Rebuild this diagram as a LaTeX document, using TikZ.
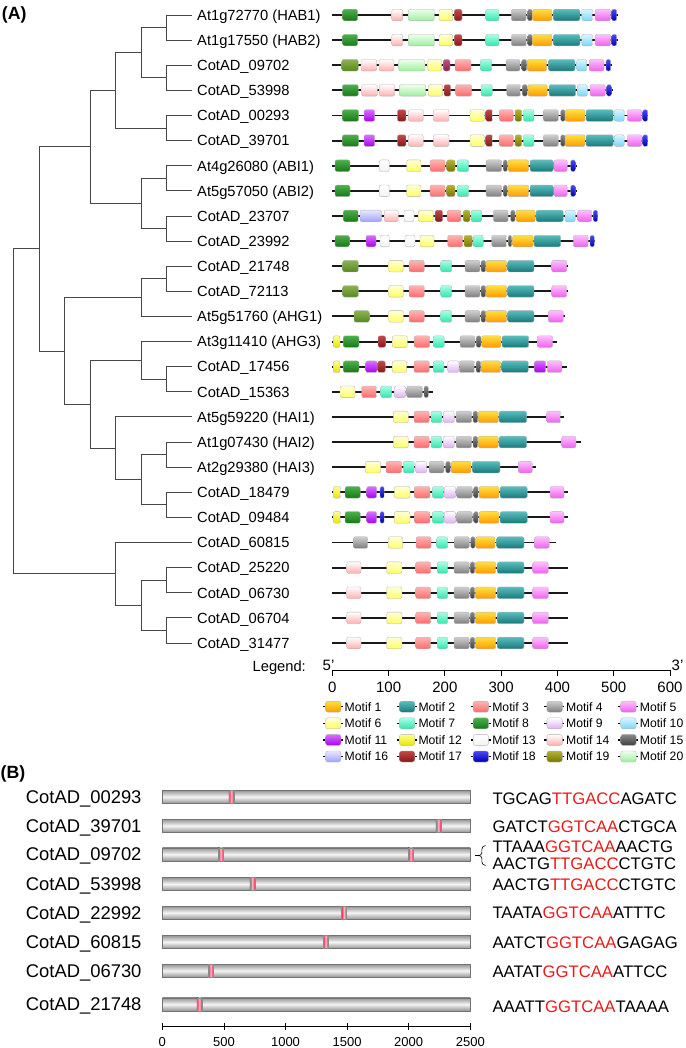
\documentclass[tikz,border=0pt]{standalone}
\usepackage{fontspec}
\setmainfont{Liberation Sans}
\usetikzlibrary{calc}
\definecolor{c1t}{HTML}{FFE040}\definecolor{c1b}{HTML}{FF9A00}
\definecolor{c2t}{HTML}{5ABDBD}\definecolor{c2b}{HTML}{17797A}
\definecolor{c3t}{HTML}{FFB4B4}\definecolor{c3b}{HTML}{FF6A6A}
\definecolor{c4t}{HTML}{CFCFCF}\definecolor{c4b}{HTML}{7E7E7E}
\definecolor{c5t}{HTML}{FFC0FF}\definecolor{c5b}{HTML}{EE60EE}
\definecolor{c6t}{HTML}{FFFFD8}\definecolor{c6b}{HTML}{FFFF60}
\definecolor{c7t}{HTML}{A8FFE4}\definecolor{c7b}{HTML}{30E6AE}
\definecolor{c8t}{HTML}{4CB04C}\definecolor{c8b}{HTML}{167816}
\definecolor{c8ot}{HTML}{8CB450}\definecolor{c8ob}{HTML}{548820}
\definecolor{c9t}{HTML}{FFFFFF}\definecolor{c9b}{HTML}{DDB0F2}
\definecolor{c10t}{HTML}{D8F6FF}\definecolor{c10b}{HTML}{78D6F8}
\definecolor{c11t}{HTML}{D870FF}\definecolor{c11b}{HTML}{A800EE}
\definecolor{c12t}{HTML}{FFFF90}\definecolor{c12b}{HTML}{E6E600}
\definecolor{c13t}{HTML}{FFFFFF}\definecolor{c13b}{HTML}{F2F2F2}
\definecolor{c14t}{HTML}{FFFFFF}\definecolor{c14b}{HTML}{FFAEAE}
\definecolor{c15t}{HTML}{8A8A8A}\definecolor{c15b}{HTML}{3E3E3E}
\definecolor{c16t}{HTML}{E8E8FF}\definecolor{c16b}{HTML}{A0A0FF}
\definecolor{c17t}{HTML}{C44848}\definecolor{c17b}{HTML}{861818}
\definecolor{c17mt}{HTML}{C25080}\definecolor{c17mb}{HTML}{8E1E50}
\definecolor{c18t}{HTML}{4848FF}\definecolor{c18b}{HTML}{0000AA}
\definecolor{c19t}{HTML}{B4B430}\definecolor{c19b}{HTML}{767600}
\definecolor{c20t}{HTML}{EEFFEE}\definecolor{c20b}{HTML}{9CEE9C}
\definecolor{seqred}{HTML}{F01818}
\definecolor{crim}{HTML}{E8244C}
\newcommand\RY[1]{15+25.12*(#1-1)}
\newcommand\prow[3]{%
  \pgfmathsetmacro\yy{15+25.12*(#1-1)}
  \draw[backbone] (332.3,\yy) -- (#2,\yy);
  \foreach \s/\a/\b in #3 {\draw[mshape,\s] (\a,\yy-5.8) rectangle (\b,\yy+5.8);}
}
\def\rA{m8/342.7/357.7, m14/391.7/402.7, m20/408.3/434.3, m6/439/452.7, m17/454.3/462, m7/485.7/499, m4/511.3/526.3, m15/527.7/532.3, m1/532.7/552, m2/553.3/580, m10/581.7/592.7, m5/595/610.7, m18/611.7/616.7}
\def\rC{m8o/341.7/358.3, m14/361/376.7, m14/379/394, m20/398.7/425, m6/427.7/441.7, m17m/443.3/450, m3/455/471, m7/480.3/491.7, m4/506/520, m15/521.7/526.7, m1/527.3/546.7, m2/548.3/575, m10/576.7/586.7, m5/589/604, m18/606/610.7}
\def\rD{m8/342.3/358.3, m14/361.7/377.3, m14/379.3/394.7, m20/399.3/425.7, m6/428.3/442.7, m17/444/450.7, m3/455.7/471.7, m7/481/492.3, m4/506.7/520.7, m15/522.3/527.3, m1/528/547.3, m2/549/575.7, m10/577.3/587.3, m5/590/605.3, m18/606.7/611.3}
\def\rE{m8/342.3/358.7, m11/364/374.7, m17/397.3/406, m14/408.3/423.3, m14/433.3/449, m6/470/484.3, m17/485.7/492.7, m3/499.3/513.3, m19/515/521.7, m7/523.3/534, m4/543.3/558.3, m15/560.7/565, m1/565/585, m2/586/613.3, m10/614.3/624.3, m5/627.3/641.7, m18/642.7/647.7}
\def\rG{m8/335/350, m13/379.3/389.3, m6/406.7/421, m3/430/445, m19/446.7/455, m7/457.3/468.7, m4/486/501.7, m15/503.3/507.3, m1/508/528.7, m2/530/553.3, m5/554/567.3, m18/570.7/575.3}
\def\rI{m8/343.3/358.3, m16/360/381.7, m14/384.3/398.3, m13/404/414, m6/418.3/433.3, m17/435/442.7, m3/447.3/461, m19/463.3/470, m7/471/481.7, m4/493.3/508.3, m15/510.7/515, m1/516/535.3, m2/536/563.3, m10/565/575.3, m5/577.7/591.7, m18/593.3/597.7}
\def\rJ{m8/335/349.3, m11/366/376, m13/380/389.3, m13/405/415, m6/420/434, m3/447.7/462.7, m19/464/472.3, m7/473.3/483.3, m4/491.7/506.7, m15/508.3/511.7, m1/512.7/533.3, m2/534/560.7, m5/573.3/588.3, m18/590/594.3}
\def\rK{m8o/342.7/358.3, m6/388.7/403.3, m3/409/424.3, m7/440.7/451.7, m4/465/480, m15/481/485.7, m1/486/506.7, m2/507.7/534, m5/551.7/566.7}
\def\rM{m8o/354/369.3, m6/388.7/403.3, m3/409/424.3, m7/440.7/451.7, m4/465/480, m15/481/485.7, m1/486/506.7, m2/507.7/534, m5/548.3/563.3}
\def\rN{m12/333.3/340, m8/343.3/359, m17/378/385.7, m6/392.3/407.3, m3/414.3/429.7, m7/433.3/444.3, m4/460/475, m15/476.3/481, m1/481.7/501, m2/502/528.7, m5/537.3/552.7}
\def\rO{m12/333.3/340, m8/343.3/359, m11/365.7/377, m17/377.7/385.3, m6/392.3/406.7, m3/414/429.3, m7/433.3/444, m9/447.7/459, m4/459.3/474.7, m15/476/480.7, m1/481.3/500.7, m2/501.7/528.3, m11/534.3/545.7, m5/547.3/561.7}
\def\rP{m6/340/355, m3/361.7/376.7, m7/380.7/391.7, m9/394.3/405.7, m4/406.7/422.3, m15/424/428.3}
\def\rQ{m6/393.3/408.3, m3/414/429.3, m7/431/441.7, m9/443.3/454.3, m4/456/471.7, m15/473/477.7, m1/478.3/498.3, m2/499/526.7, m5/546.7/560.7}
\def\rR{m6/393.3/408.3, m3/414/429.3, m7/431/441.7, m9/443.3/454.3, m4/456/471.7, m15/473/477.7, m1/478.3/498.3, m2/499/526.7, m5/561.7/576}
\def\rS{m6/365.3/380.7, m3/386/401.7, m7/403.3/414.3, m9/415.7/426.7, m4/429/444, m15/445.7/450.3, m1/451/471, m2/472.3/500, m5/518.3/532.3}
\def\rT{m12/333.3/340.7, m8/345/360.3, m11/366.7/376.7, m18/380/384.3, m6/394.3/410, m3/414.3/430, m7/432.3/443.7, m9/444.3/455.7, m4/456.7/472.3, m15/473.7/478.3, m1/479/499, m2/500/527.3, m5/550/564}
\def\rV{m4/353.3/367.7, m6/388.3/402.7, m3/416/431, m7/436.7/447.7, m4/454.3/469.3, m15/470.7/475, m1/475.7/495, m2/496.7/524, m5/534.3/549.3}
\def\rW{m14/346.7/361, m6/386.7/402, m3/415.7/430.7, m7/437.3/447.7, m4/454/469.3, m15/470.3/474.7, m1/475.3/495.7, m2/497.3/524, m5/532.7/548.3}
\begin{document}
\begin{tikzpicture}[x=1pt,y=-1pt,
  tree/.style={draw=black!72, line width=0.9pt},
  tlab/.style={inner sep=0pt, font=\fontsize{14.7}{16}\selectfont},
  backbone/.style={draw=black!90, line width=1.9pt},
  mshape/.style={draw=black!30, line width=0.35pt, rounded corners=2pt},
  m1/.style={top color=c1t, bottom color=c1b},
  m2/.style={top color=c2t, bottom color=c2b},
  m3/.style={top color=c3t, bottom color=c3b},
  m4/.style={top color=c4t, bottom color=c4b},
  m5/.style={top color=c5t, bottom color=c5b},
  m6/.style={top color=c6t, bottom color=c6b},
  m7/.style={top color=c7t, bottom color=c7b},
  m8/.style={top color=c8t, bottom color=c8b},
  m8o/.style={top color=c8ot, bottom color=c8ob},
  m9/.style={top color=c9t, bottom color=c9b},
  m10/.style={top color=c10t, bottom color=c10b},
  m11/.style={top color=c11t, bottom color=c11b},
  m12/.style={top color=c12t, bottom color=c12b},
  m13/.style={top color=c13t, bottom color=c13b},
  m14/.style={top color=c14t, bottom color=c14b},
  m15/.style={top color=c15t, bottom color=c15b},
  m16/.style={top color=c16t, bottom color=c16b},
  m17/.style={top color=c17t, bottom color=c17b},
  m17m/.style={top color=c17mt, bottom color=c17mb},
  m18/.style={top color=c18t, bottom color=c18b},
  m19/.style={top color=c19t, bottom color=c19b},
  m20/.style={top color=c20t, bottom color=c20b},
  axisl/.style={draw=black, line width=0.8pt},
  axlab/.style={inner sep=0pt, font=\fontsize{15}{16}\selectfont},
  legstub/.style={draw=black, line width=1.3pt},
  leglab/.style={inner sep=0pt, font=\fontsize{12.2}{14}\selectfont},
  hb/.style={inner sep=0pt, font=\fontsize{17.7}{19}\selectfont\bfseries},
  blab/.style={inner sep=0pt, font=\fontsize{18.4}{20}\selectfont},
  seqt/.style={inner sep=0pt, font=\fontsize{16.7}{18}\selectfont},
  blab2/.style={inner sep=0pt, font=\fontsize{13}{14}\selectfont},
  gbar/.style={draw=black!55, line width=0.5pt, top color=black!42, bottom color=black!42, middle color=black!4},
  cremark/.style={draw=black!45, line width=0.3pt, left color=crim, right color=crim, middle color=crim!30},
  bracel/.style={draw=black, line width=0.6pt}
]
\useasboundingbox (0,0) rectangle (685,1048);
% ---------- (A) ----------
\node[hb, anchor=base west] (hA) at (1.7,19.6) {(A)};
% leaves and labels
\foreach \i in {1,...,26}{\coordinate (L\i) at (191.7,{\RY{\i}});}
\foreach \i/\t in {1/At1g72770 (HAB1), 2/At1g17550 (HAB2), 3/CotAD\_09702, 4/CotAD\_53998, 5/CotAD\_00293, 6/CotAD\_39701, 7/At4g26080 (ABI1), 8/At5g57050 (ABI2), 9/CotAD\_23707, 10/CotAD\_23992, 11/CotAD\_21748, 12/CotAD\_72113, 13/At5g51760 (AHG1), 14/At3g11410 (AHG3), 15/CotAD\_17456, 16/CotAD\_15363, 17/At5g59220 (HAI1), 18/At1g07430 (HAI2), 19/At2g29380 (HAI3), 20/CotAD\_18479, 21/CotAD\_09484, 22/CotAD\_60815, 23/CotAD\_25220, 24/CotAD\_06730, 25/CotAD\_06704, 26/CotAD\_31477}
  {\node[tlab, anchor=base west] (t\i) at (197,{\RY{\i}+5.3}) {\t};}
% internal nodes
\coordinate (a1) at (166,{\RY{1.5}});
\coordinate (a2) at (166,{\RY{3.5}});
\coordinate (a3) at (141.7,{\RY{2.5}});
\coordinate (a4) at (166,{\RY{5.5}});
\coordinate (a5) at (115.7,{\RY{4}});
\coordinate (a6) at (166,{\RY{7.5}});
\coordinate (a7) at (166,{\RY{9.5}});
\coordinate (a8) at (141.7,{\RY{8.5}});
\coordinate (a9) at (90,{\RY{6.25}});
\coordinate (b1) at (166,{\RY{11.5}});
\coordinate (b2) at (141.7,{\RY{12.25}});
\coordinate (b3) at (166,{\RY{15.5}});
\coordinate (b4) at (141.7,{\RY{14.75}});
\coordinate (b5) at (166,{\RY{18.5}});
\coordinate (b6) at (166,{\RY{20.5}});
\coordinate (b7) at (141.7,{\RY{19.5}});
\coordinate (b8) at (115.7,{\RY{18.25}});
\coordinate (b9) at (90,{\RY{16.5}});
\coordinate (b10) at (64,{\RY{14.375}});
\coordinate (c1) at (39.3,{\RY{10.3125}});
\coordinate (d1) at (166,{\RY{23.5}});
\coordinate (d2) at (166,{\RY{25.5}});
\coordinate (d3) at (141.7,{\RY{24.5}});
\coordinate (d4) at (115.7,{\RY{23.25}});
\coordinate (rt) at (13.3,{\RY{16.78}});
\foreach \p/\c in {a1/L1,a1/L2,a2/L3,a2/L4,a3/a1,a3/a2,a4/L5,a4/L6,a5/a3,a5/a4,a6/L7,a6/L8,a7/L9,a7/L10,a8/a6,a8/a7,a9/a5,a9/a8,
  b1/L11,b1/L12,b2/b1,b2/L13,b3/L15,b3/L16,b4/L14,b4/b3,b5/L18,b5/L19,b6/L20,b6/L21,b7/b5,b7/b6,b8/L17,b8/b7,b9/b4,b9/b8,b10/b2,b10/b9,c1/a9,c1/b10,
  d1/L23,d1/L24,d2/L25,d2/L26,d3/d1,d3/d2,d4/L22,d4/d3,rt/c1,rt/d4}
  {\draw[tree] (\p) |- (\c);}
% motif rows
\prow{1}{618.3}{\rA}
\prow{2}{618.3}{\rA}
\prow{3}{611.7}{\rC}
\prow{4}{613.3}{\rD}
\prow{5}{648.3}{\rE}
\prow{6}{648.3}{\rE}
\prow{7}{576.7}{\rG}
\prow{8}{576.7}{\rG}
\prow{9}{598.3}{\rI}
\prow{10}{595}{\rJ}
\prow{11}{568.3}{\rK}
\prow{12}{568.3}{\rK}
\prow{13}{565}{\rM}
\prow{14}{557.3}{\rN}
\prow{15}{566.7}{\rO}
\prow{16}{432.7}{\rP}
\prow{17}{564.3}{\rQ}
\prow{18}{580.7}{\rR}
\prow{19}{535.7}{\rS}
\prow{20}{568.3}{\rT}
\prow{21}{568.3}{\rT}
\prow{22}{556}{\rV}
\prow{23}{568.3}{\rW}
\prow{24}{568.3}{\rW}
\prow{25}{568.3}{\rW}
\prow{26}{568.3}{\rW}
% scale
\node[tlab, anchor=base east] (leg) at (306,671.7) {Legend:};
\node[axlab, anchor=base west] (p5) at (322.5,670) {5’};
\node[axlab, anchor=base west] (p3) at (671.5,670) {3’};
\draw[axisl] (332.3,670.7) -- (670,670.7);
\foreach \k in {0,...,6}{
  \draw[axisl] ({332.3+56.28*\k},669.5) -- ({332.3+56.28*\k},675.5);
  \node[axlab, anchor=base] (ta\k) at ({332.3+56.28*\k},692.1) {\number\numexpr\k*100\relax};
}
% legend
\foreach \n in {1,...,20}{
  \pgfmathtruncatemacro\cc{mod(\n-1,5)}
  \pgfmathtruncatemacro\rr{(\n-1)/5}
  \pgfmathsetmacro\lx{323+73.8*\cc}
  \pgfmathsetmacro\ly{706.7+16.6*\rr}
  \draw[legstub] (\lx,\ly) -- (\lx+20,\ly);
  \draw[mshape,m\n,rounded corners=2.5pt] (\lx+2.5,\ly-5.5) rectangle (\lx+18,\ly+5.5);
  \node[leglab, anchor=base west] (lg\n) at (\lx+21.5,\ly+4.4) {Motif \n};
}
% ---------- (B) ----------
\node[hb, anchor=base west] (hB) at (0.5,778) {(B)};
\foreach \nm/\yb/\mk in {00293/796.7/231.3, 39701/825.7/438.3, 09702/854.3/220.7, 53998/884/252.3, 22992/912.7/344, 60815/942/325.7, 06730/970.7/210.7, 21748/1004.3/199.3}{
  \node[blab, anchor=base west] (bl\nm) at (25.7,\yb+6.4) {CotAD\_\nm};
  \draw[gbar] (162.3,\yb-6.5) rectangle (470.3,\yb+6.5);
  \draw[cremark] (\mk-2.5,\yb-6.5) rectangle (\mk+2.5,\yb+6.5);
}
\draw[cremark] (408.2,847.8) rectangle (413.2,860.8);
\draw[axisl] (162.3,1026.5) -- (470.3,1026.5);
\foreach \k in {0,...,5}{
  \draw[axisl] ({162.3+61.6*\k},1023) -- ({162.3+61.6*\k},1030);
  \node[blab2, anchor=base] (tb\k) at ({162.3+61.6*\k},1046.3) {\number\numexpr\k*500\relax};
}
\node[seqt, anchor=base west] (s1) at (492.3,804.3) {TGCAG\textcolor{seqred}{TTGACC}AGATC};
\node[seqt, anchor=base west] (s2) at (492.3,832.7) {GATCT\textcolor{seqred}{GGTCAA}CTGCA};
\node[seqt, anchor=base west] (s3) at (492.3,852) {TTAAA\textcolor{seqred}{GGTCAA}AACTG};
\node[seqt, anchor=base west] (s4) at (492.3,869.3) {AACTG\textcolor{seqred}{TTGACC}CTGTC};
\node[seqt, anchor=base west] (s5) at (492.3,890.3) {AACTG\textcolor{seqred}{TTGACC}CTGTC};
\node[seqt, anchor=base west] (s6) at (492.3,918.7) {TAATA\textcolor{seqred}{GGTCAA}ATTTC};
\node[seqt, anchor=base west] (s7) at (492.3,948.7) {AATCT\textcolor{seqred}{GGTCAA}GAGAG};
\node[seqt, anchor=base west] (s8) at (492.3,977) {AATAT\textcolor{seqred}{GGTCAA}ATTCC};
\node[seqt, anchor=base west] (s9) at (492.3,1012) {AAATT\textcolor{seqred}{GGTCAA}TAAAA};
% brace
\coordinate (br0) at (474.5,855.5);
\coordinate (br1) at (478.8,855.5);
\draw[bracel] (br0) -- (br1);
\draw[bracel] (485.5,845.5) to[out=180,in=90] (481.8,849.5) -- (481.8,852.5) to[out=-90,in=0] (br1)
  to[out=0,in=90] (481.8,858.5) -- (481.8,861.5) to[out=-90,in=180] (485.5,865.5);
\end{tikzpicture}
\end{document}
